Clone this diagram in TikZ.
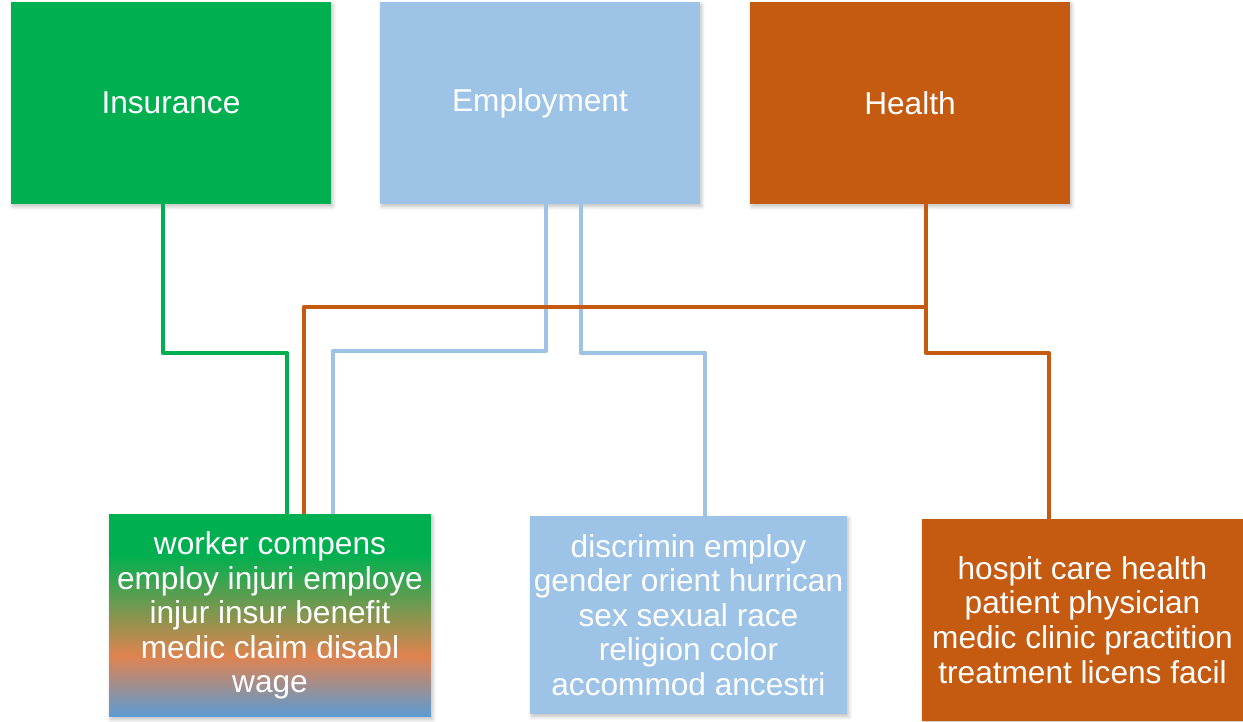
\documentclass[tikz,border=0pt]{standalone}
\usepackage{fontspec}
\setmainfont{Liberation Sans}
\usepackage{tikz}
\usetikzlibrary{positioning,calc,shadows.blur}

\definecolor{insgreen}{HTML}{00B050}
\definecolor{empblue}{HTML}{9DC3E6}
\definecolor{heaorange}{HTML}{C55A11}
\definecolor{mixorange}{HTML}{E0834F}
\definecolor{mixblue}{HTML}{5B9BD5}

\pgfdeclareverticalshading{mixshade}{100bp}{color(0bp)=(mixblue); color(25bp)=(mixblue);
  color(40bp)=(mixorange); color(65bp)=(insgreen); color(100bp)=(insgreen)}

\tikzset{
  topicbox/.style={draw=none, text=white, align=center, outer sep=0pt, inner sep=1pt,
    font=\fontsize{18}{19.7}\selectfont, anchor=north west,
    blur shadow={shadow blur steps=6, shadow xshift=1pt, shadow yshift=-1.5pt, shadow opacity=25}},
  link/.style={line width=2.6pt, draw=#1, line join=round}
}

\begin{document}
\begin{tikzpicture}[x=0.02cm,y=-0.02cm]
\useasboundingbox (0,0) rectangle (1243,721);

\node[topicbox, fill=insgreen, minimum width=6.4cm, minimum height=4.04cm] (ins) at (11,2) {Insurance};
\node[topicbox, fill=empblue, minimum width=6.4cm, minimum height=4.04cm] (emp) at (380,2) {Employment};
\node[topicbox, fill=heaorange, minimum width=6.4cm, minimum height=4.04cm] (hea) at (750,2) {Health};

\node[topicbox, shade, shading=mixshade, minimum width=6.44cm, minimum height=4.06cm] (mix) at (109,514)
  {worker compens\\employ injuri employe\\injur insur benefit\\medic claim disabl\\wage};
\node[topicbox, fill=empblue, minimum width=6.34cm, minimum height=3.96cm] (disc) at (530,516)
  {discrimin employ\\gender orient hurrican\\sex sexual race\\religion color\\accommod ancestri};
\node[topicbox, fill=heaorange, minimum width=6.42cm, minimum height=4.04cm] (care) at (922,519)
  {hospit care health\\patient physician\\medic clinic practition\\treatment licens facil};

% topic links
\draw[link=insgreen] ($(ins.south)+(-8,0)$) -- ++(0,149) -| ($(mix.north)+(17,0)$);
\draw[link=empblue] ($(emp.south)+(6,0)$) -- ++(0,147) -| ($(mix.north)+(63,0)$);
\draw[link=empblue] ($(emp.south)+(41,0)$) -- ++(0,149) -| ($(disc.north)+(16.5,0)$);
\draw[link=heaorange] ($(hea.south)+(16,0)$) -- ++(0,103) -| ($(mix.north)+(34,0)$);
\draw[link=heaorange] ($(hea.south)+(16,0)$) -- ++(0,149) -| ($(care.north)+(-33.5,0)$);

\end{tikzpicture}
\end{document}
